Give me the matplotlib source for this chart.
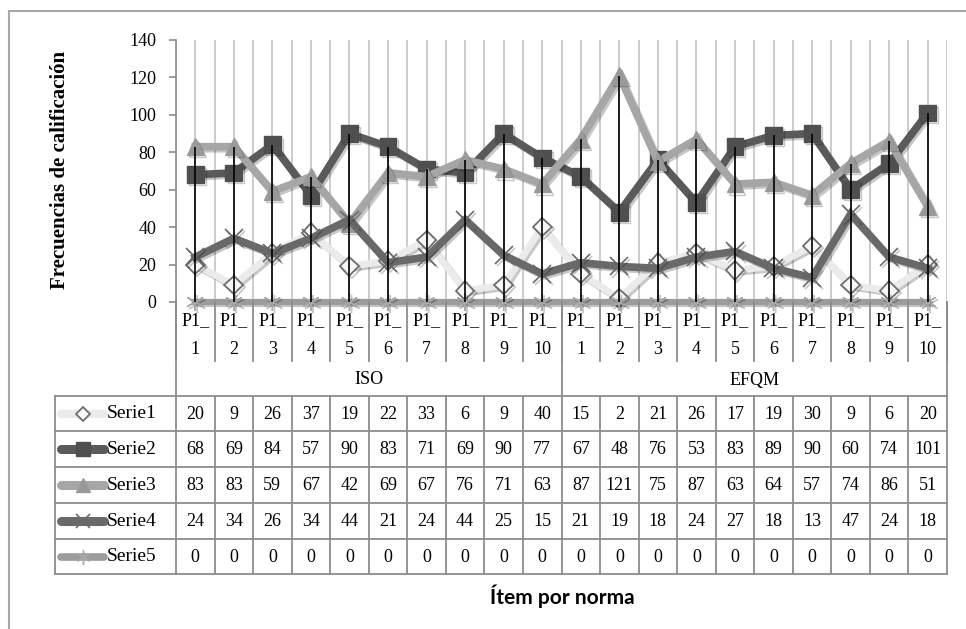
import matplotlib.pyplot as plt
import matplotlib.patheffects as pe
from matplotlib.lines import Line2D

# Ítems evaluados por norma
norms = ['ISO', 'EFQM']
items = ['1', '2', '3', '4', '5', '6', '7', '8', '9', '10']
cat_prefix = 'P1_'

series_names = ['Serie1', 'Serie2', 'Serie3', 'Serie4', 'Serie5']
serie1 = [20, 9, 26, 37, 19, 22, 33, 6, 9, 40, 15, 2, 21, 26, 17, 19, 30, 9, 6, 20]
serie2 = [68, 69, 84, 57, 90, 83, 71, 69, 90, 77, 67, 48, 76, 53, 83, 89, 90, 60, 74, 101]
serie3 = [83, 83, 59, 67, 42, 69, 67, 76, 71, 63, 87, 121, 75, 87, 63, 64, 57, 74, 86, 51]
serie4 = [24, 34, 26, 34, 44, 21, 24, 44, 25, 15, 21, 19, 18, 24, 27, 18, 13, 47, 24, 18]
serie5 = [0, 0, 0, 0, 0, 0, 0, 0, 0, 0, 0, 0, 0, 0, 0, 0, 0, 0, 0, 0]
all_series = [serie1, serie2, serie3, serie4, serie5]

y_ticks = [0, 20, 40, 60, 80, 100, 120, 140]

styles = [
    dict(color='#ebebeb', lw=5, marker='D', ms=9.5, mfc='#f7f7f7', mec='#6e6e6e', mew=1.3),
    dict(color='#5a5a5a', lw=5.5, marker='s', ms=12, mfc='#4f4f4f', mec='#4f4f4f', mew=1),
    dict(color='#a6a6a6', lw=5.5, marker='^', ms=12, mfc='#999999', mec='#999999', mew=1),
    dict(color='#696969', lw=5.5, marker='x', ms=13, mfc='#696969', mec='#696969', mew=1.2),
    dict(color='#9c9c9c', lw=4.5, marker=(6, 2, 0), ms=13, mfc='#9c9c9c', mec='#a8a8a8', mew=1.0),
]

SERIF = 'Liberation Serif'
W, H = 966, 629
fig = plt.figure(figsize=(W / 100, H / 100), dpi=100)


def box(left, top, right, bottom):
    return [left / W, 1 - bottom / H, (right - left) / W, (bottom - top) / H]


PL, PR = 176, 947
n = len(serie1)
x = list(range(n))

ax = fig.add_axes(box(PL, 40, PR, 302))
ax.set_xlim(-0.5, n - 0.5)
ax.set_ylim(0, 140)

# gridlines at centres and between categories
grid_x = [i * 0.5 - 0.5 for i in range(2 * n + 1)]
ax.vlines(grid_x, 0, 140, color='#c4c4c4', lw=1.2, zorder=0)

shadow = [pe.SimpleLineShadow(offset=(1.5, -1.5), shadow_color='k', alpha=0.22), pe.Normal()]
for k, (vals, st) in enumerate(zip(all_series, styles)):
    ax.plot(x, vals, solid_joinstyle='miter', zorder=2 + k, path_effects=shadow, clip_on=False, **st)

# high-low lines
lows = [min(v) for v in zip(*all_series)]
highs = [max(v) for v in zip(*all_series)]
ax.vlines(x, lows, highs, color='black', lw=1.2, zorder=10)

for s in ['top', 'right', 'bottom']:
    ax.spines[s].set_visible(False)
ax.spines['left'].set_color('#8c8c8c')
ax.spines['left'].set_linewidth(1.2)
ax.set_xticks([])
ax.set_yticks(y_ticks)
ax.tick_params(axis='y', direction='out', length=5, width=1.2, color='#8c8c8c', labelsize=13, pad=9)
for lbl in ax.get_yticklabels():
    lbl.set_fontfamily(SERIF)

fig.text(60 / W, 1 - 170 / H, 'Frecuencias de calificación', rotation=90, ha='center', va='center',
         fontsize=15, fontweight='bold', family=SERIF)

# data table below the chart
tab = fig.add_axes(box(PL, 302, PR, 575))
tab.set_xlim(-0.5, n - 0.5)
tab.set_ylim(575, 302)
tab.axis('off')


def px_x(px):
    return (px - PL) / (PR - PL) * n - 0.5


gc = '#8c8c8c'
glw = 1.3
for i in range(n + 1):
    tab.plot([i - 0.5, i - 0.5], [302, 361], color=gc, lw=glw, clip_on=False)
for xb in [-0.5, 9.5, n - 0.5]:
    tab.plot([xb, xb], [302, 396], color=gc, lw=glw, clip_on=False)

for i in range(n):
    tab.text(i, 321, cat_prefix, ha='center', va='center', fontsize=13, family=SERIF)
    tab.text(i, 350, items[i % 10], ha='center', va='center', fontsize=13, family=SERIF)
for g, name in enumerate(norms):
    tab.text(g * 10 + 4.5, 380, name, ha='center', va='center', fontsize=13, family=SERIF)

rows = [396, 431, 467, 503, 539, 574]
tl = px_x(55)
for yb in rows:
    tab.plot([tl, n - 0.5], [yb, yb], color=gc, lw=glw, clip_on=False)
tab.plot([tl, tl], [rows[0], rows[-1]], color=gc, lw=glw, clip_on=False)
for i in range(n + 1):
    tab.plot([i - 0.5, i - 0.5], [rows[0], rows[-1]], color=gc, lw=glw, clip_on=False)

for r, (name, vals, st) in enumerate(zip(series_names, all_series, styles)):
    yc = (rows[r] + rows[r + 1]) / 2
    for i, v in enumerate(vals):
        tab.text(i, yc + 1, str(v), ha='center', va='center', fontsize=13, family=SERIF)
    key = Line2D([px_x(61), px_x(104)], [yc, yc], color=st['color'], lw=st['lw'] + 1,
                 solid_capstyle='round', clip_on=False)
    tab.add_line(key)
    mk = Line2D([px_x(82.5)], [yc], marker=st['marker'], ms=st['ms'] * 0.8, mfc=st['mfc'],
                mec=st['mec'], mew=st['mew'], lw=0, clip_on=False)
    tab.add_line(mk)
    tab.text(px_x(107), yc, name, ha='left', va='center', fontsize=14, family=SERIF)

fig.text(562 / W, 1 - 596 / H, 'Ítem por norma', ha='center', va='center',
         fontsize=15, fontweight='bold', family='Lato')

# outer frame
fig.add_artist(Line2D([9 / W, 9 / W], [0, 1 - 11 / H], color='#a6a6a6', lw=1.5))
fig.add_artist(Line2D([9 / W, 1], [1 - 11 / H, 1 - 11 / H], color='#a6a6a6', lw=1.5))

fig.savefig('out.png', dpi=100, facecolor='white')
